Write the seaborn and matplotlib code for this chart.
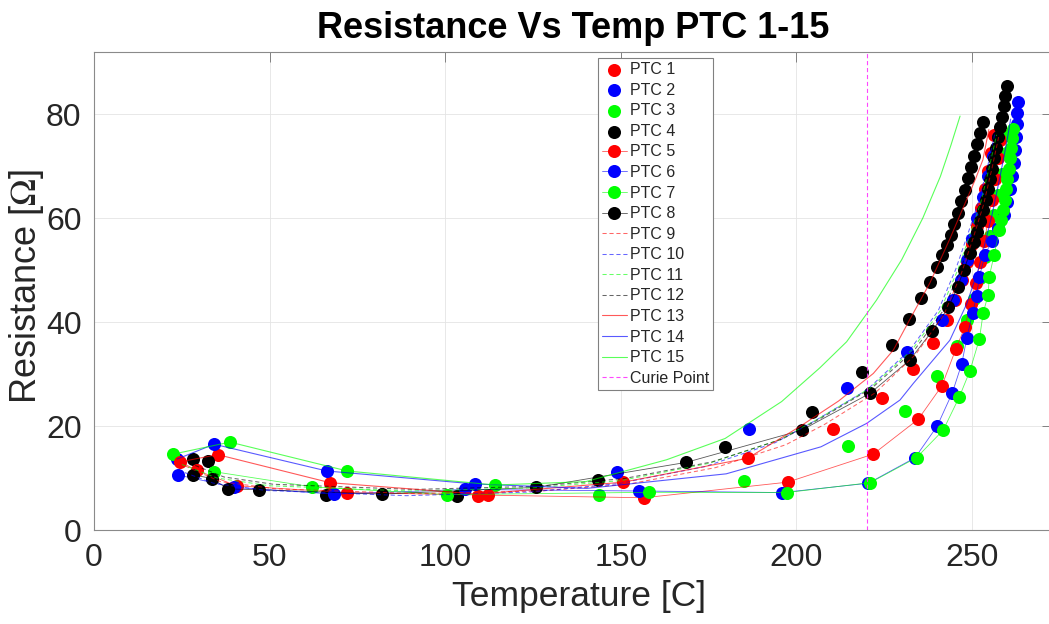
import matplotlib
matplotlib.use("Agg")
import matplotlib.pyplot as plt
from matplotlib.colors import to_rgba
import seaborn as sns

# ---------------- data ----------------
T1 = [35.2, 67.2, 109.4, 150.7, 186.1, 210.3, 224.4, 233.1, 238.8, 242.8, 245.2, 247.1, 248.6, 250.0, 251.3, 252.5, 253.6, 254.6, 255.5, 256.3]
R1 = [14.5, 9.1, 6.6, 9.2, 13.8, 19.4, 25.3, 30.9, 35.9, 40.4, 44.3, 48.1, 51.5, 55.0, 58.5, 62.0, 65.5, 69.0, 72.5, 76.0]

T2 = [23.7, 34.2, 66.3, 108.5, 149.0, 186.6, 214.5, 231.4, 241.4, 244.7, 246.8, 248.5, 250.0, 251.5, 253.0, 254.5, 256.0, 257.3]
R2 = [13.65, 16.5, 11.35, 8.85, 11.1, 19.4, 27.4, 34.3, 40.3, 44.2, 48.0, 52.0, 56.0, 60.0, 64.0, 68.0, 72.0, 75.5]

T3 = [22.6, 38.7, 72.1, 114.2, 143.8, 185.2, 214.6, 230.9, 240.0, 245.6, 248.5, 250.5, 252.2, 253.6, 255.0, 256.3, 257.5, 258.6, 259.6, 260.5]
R3 = [14.6, 16.9, 11.35, 8.65, 6.7, 9.5, 16.2, 22.9, 29.7, 35.3, 40.4, 44.5, 48.5, 52.5, 56.5, 60.5, 64.5, 68.5, 72.5, 76.0]

T4 = [28.3, 32.6, 66.1, 103.5, 143.6, 179.7, 204.3, 218.8, 227.1, 232.2, 235.5, 237.9, 240.0, 241.4, 242.8, 243.9, 244.9, 245.9, 246.9, 247.9, 248.9, 249.8, 250.7, 251.5, 252.3, 253.0]
R4 = [13.6, 13.3, 6.7, 6.5, 9.6, 15.9, 22.6, 30.3, 35.6, 40.5, 44.6, 47.6, 50.6, 52.9, 54.8, 56.7, 58.8, 61.0, 63.2, 65.4, 67.6, 69.8, 72.0, 74.2, 76.4, 78.5]

T5 = [24.5, 29.2, 40.6, 72.0, 112.3, 156.6, 197.5, 221.9, 234.7, 241.4, 245.4, 248.0, 249.6, 251.0, 252.3, 253.5, 254.6, 255.6, 256.5, 257.3, 258.0]
R5 = [13.1, 11.5, 8.5, 7.2, 6.7, 6.2, 9.2, 14.6, 21.3, 27.7, 34.8, 39.1, 43.5, 47.5, 51.5, 55.5, 59.5, 63.5, 67.5, 71.5, 75.0]

T6 = [23.8, 39.9, 68.4, 105.6, 155.3, 196.0, 220.5, 233.8, 240.1, 244.4, 247.1, 248.5, 250.2, 251.3, 252.1, 253.7, 255.6, 257.4, 259.0, 260.0, 260.8, 261.4, 261.9, 262.3, 262.6, 262.8, 262.9, 263.0]
R6 = [10.6, 8.2, 6.9, 7.8, 7.5, 7.2, 9.0, 13.9, 20.0, 26.4, 32.0, 36.9, 41.8, 45.0, 48.7, 52.9, 55.5, 58.0, 60.5, 63.0, 65.5, 68.0, 70.5, 73.0, 75.5, 78.0, 80.2, 82.4]

T7 = [34.3, 62.0, 100.6, 158.1, 197.2, 221.0, 234.2, 241.8, 246.4, 249.4, 252.1, 253.2, 254.6, 254.9, 256.3, 257.8, 258.3, 258.8, 259.3, 259.7, 260.1, 260.5, 260.9, 261.2, 261.5, 261.8]
R7 = [11.2, 8.3, 6.8, 7.25, 7.2, 9.1, 13.9, 19.2, 25.6, 30.6, 36.7, 41.8, 45.2, 48.7, 52.9, 57.7, 59.6, 61.5, 63.5, 65.5, 67.5, 69.5, 71.5, 73.5, 75.4, 77.2]

T8 = [28.3, 33.6, 38.1, 46.9, 81.9, 125.9, 168.6, 201.5, 221.0, 232.3, 238.7, 243.3, 245.9, 247.7, 249.4, 250.5, 251.5, 252.4, 253.2, 254.0, 254.6, 255.1, 255.7, 256.3, 256.9, 257.4, 257.9, 258.5, 259.0, 259.5, 259.9]
R8 = [10.6, 9.9, 7.9, 7.75, 6.9, 8.2, 13.0, 19.2, 26.3, 32.7, 38.3, 42.8, 46.8, 50.0, 53.3, 55.4, 57.4, 59.5, 61.5, 63.5, 65.5, 67.5, 69.5, 71.5, 73.5, 75.5, 77.5, 79.5, 81.5, 83.5, 85.3]

T9 = [26, 36, 52, 92, 127, 152, 177, 197, 208, 222.5, 234, 242, 247, 250.5, 253.3, 255.7, 257.6]
R9 = [12.3, 9.3, 7.9, 7.0, 7.5, 8.8, 12.0, 16.4, 20.3, 26.4, 33.8, 41.4, 49.4, 56.5, 62.6, 69.6, 75.6]
T10 = [24, 34, 49, 89, 124, 149, 174, 194, 205, 220, 232.3, 240.4, 245.4, 249, 252, 254.6, 256.6]
R10 = [11.5, 9.0, 7.6, 6.6, 7.3, 8.9, 12.2, 16.8, 20.9, 26.9, 34.6, 42.2, 50.2, 57.3, 63.4, 70.4, 76.5]
T11 = [25, 35, 50, 90, 125, 150, 175, 195, 206, 221, 233, 241, 246, 249.5, 252.5, 255, 257]
R11 = [12.6, 10.0, 8.5, 7.5, 8.1, 9.5, 12.8, 17.3, 21.3, 27.3, 34.7, 42.2, 50.1, 57.0, 63.0, 70.0, 76.0]
T12 = [27, 37, 51, 91, 126, 151, 176, 196, 207, 221.5, 233.6, 241.6, 246.6, 250.1, 253, 255.4, 257.3]
R12 = [12.9, 10.2, 8.8, 7.8, 8.4, 9.9, 13.1, 17.5, 21.5, 27.3, 34.6, 42.0, 49.8, 56.8, 62.8, 69.8, 75.8]

T13 = [24.5, 35.2, 67.2, 109.4, 150.7, 186.1, 201, 212, 221.9, 227.6, 232.3, 238, 243.7, 247.5, 251, 253.1, 254.8]
R13 = [13.1, 14.5, 9.1, 6.9, 9.2, 13.8, 19.9, 24.8, 30.1, 34.6, 40.5, 47.5, 56, 62, 67.5, 71.2, 77]
T14 = [23.7, 34.2, 66.3, 108.5, 140.3, 180, 207, 220, 229.5, 233.3, 243.7, 248.5, 252, 255.6, 258, 260, 261]
R14 = [13.65, 16.5, 11.35, 8.85, 8.0, 10.8, 16, 20.5, 25, 28.2, 36.5, 43.5, 50.5, 60.3, 68, 75, 79]
T15 = [22.6, 38.7, 72.1, 114.2, 140, 163, 179.7, 195.8, 206.7, 214.3, 222.8, 230, 236, 241, 244, 246.6]
R15 = [14.6, 16.9, 11.35, 8.65, 9.3, 13.5, 17.6, 24.7, 31.2, 36.2, 44.2, 52, 60, 68, 74, 79.6]

curie_T = 220

names = [f"PTC {i}" for i in range(1, 16)]
colors4 = ["#ff0000", "#0000ff", "#00ff00", "#000000"]
xticks = [0, 50, 100, 150, 200, 250]
yticks = [0, 20, 40, 60, 80]

# ---------------- style ----------------
sns.set_style("white")
plt.rcParams["font.family"] = ["Liberation Sans", "DejaVu Sans"]
plt.rcParams["mathtext.fontset"] = "stix"
plt.rcParams["lines.scale_dashes"] = False
plt.rcParams["lines.dashed_pattern"] = [3.0, 2.0]

W, H = 1049, 624
fig = plt.figure(figsize=(W / 100, H / 100), dpi=100)
ax = fig.add_axes([94 / W, (H - 530) / H, (1052 - 94) / W, (530 - 52) / H])

MS = 9.4
marker_sets = [(T1, R1), (T2, R2), (T3, R3), (T4, R4)]
for (t, r), c, n in zip(marker_sets, colors4, names[0:4]):
    sns.scatterplot(x=t, y=r, color=c, s=MS ** 2, linewidth=0, label=n, ax=ax, zorder=2)

line_marker_sets = [(T5, R5), (T6, R6), (T7, R7), (T8, R8)]
for (t, r), c, n in zip(line_marker_sets, colors4, names[4:8]):
    sns.lineplot(x=t, y=r, color=c, marker="o", markersize=MS, markeredgewidth=0,
                 linewidth=0.6, sort=False, estimator=None, label=n, ax=ax, zorder=2)
    ln = ax.lines[-1]
    ln.set_color(to_rgba(c, 0.65))
    ln.set_markerfacecolor(c)
    ln.set_markeredgecolor(c)

dash_sets = [(T9, R9), (T10, R10), (T11, R11), (T12, R12)]
for (t, r), c, n in zip(dash_sets, colors4, names[8:12]):
    sns.lineplot(x=t, y=r, color=c, linestyle="--", linewidth=0.75, alpha=0.6,
                 sort=False, estimator=None, label=n, ax=ax, zorder=2)

solid_sets = [(T13, R13), (T14, R14), (T15, R15)]
for (t, r), c, n in zip(solid_sets, colors4[:3], names[12:15]):
    sns.lineplot(x=t, y=r, color=c, linewidth=0.8, alpha=0.65,
                 sort=False, estimator=None, label=n, ax=ax, zorder=2)

ax.axvline(curie_T, color="#ff33ff", linestyle="--", linewidth=0.8, alpha=0.9,
           label="Curie Point", zorder=2)

# ---------------- axes ----------------
ax.set_xlim(0, (1052 - 94) / 3.512)
ax.set_ylim(0, (530 - 52) / 5.2)
ax.set_xticks(xticks)
ax.set_yticks(yticks)
ax.set_axisbelow(True)
ax.grid(True, color="#e4e4e4", linewidth=0.6)
for s in ax.spines.values():
    s.set_color("#8a8a8a")
    s.set_linewidth(0.8)
ax.tick_params(direction="in", length=7, width=0.6, color="#707070",
               labelsize=23, labelcolor="#262626", pad=9, top=True, right=True)

ax.set_title("Resistance Vs Temp PTC 1-15", fontsize=26, fontweight="bold",
             color="black", pad=10)
ax.set_xlabel("Temperature [C]", fontsize=25.5, color="#262626")
ax.set_ylabel(r"Resistance [$\Omega$]", fontsize=26, color="#262626")
ax.xaxis.set_label_coords(0.506, -0.105)
ax.yaxis.set_label_coords(-0.05, 0.51)

handles, labels = ax.get_legend_handles_labels()
leg = ax.legend(handles, labels, loc="upper left",
                bbox_to_anchor=((598 - 94) / (1052 - 94), (530 - 58) / (530 - 52)),
                borderaxespad=0, fontsize=11.5, frameon=True, fancybox=False,
                edgecolor="#808080", framealpha=1, borderpad=0.25, labelspacing=0.35,
                handlelength=1.55, handletextpad=0.2, scatterpoints=1)
leg.get_frame().set_linewidth(0.8)

fig.savefig("out.png", dpi=100)
